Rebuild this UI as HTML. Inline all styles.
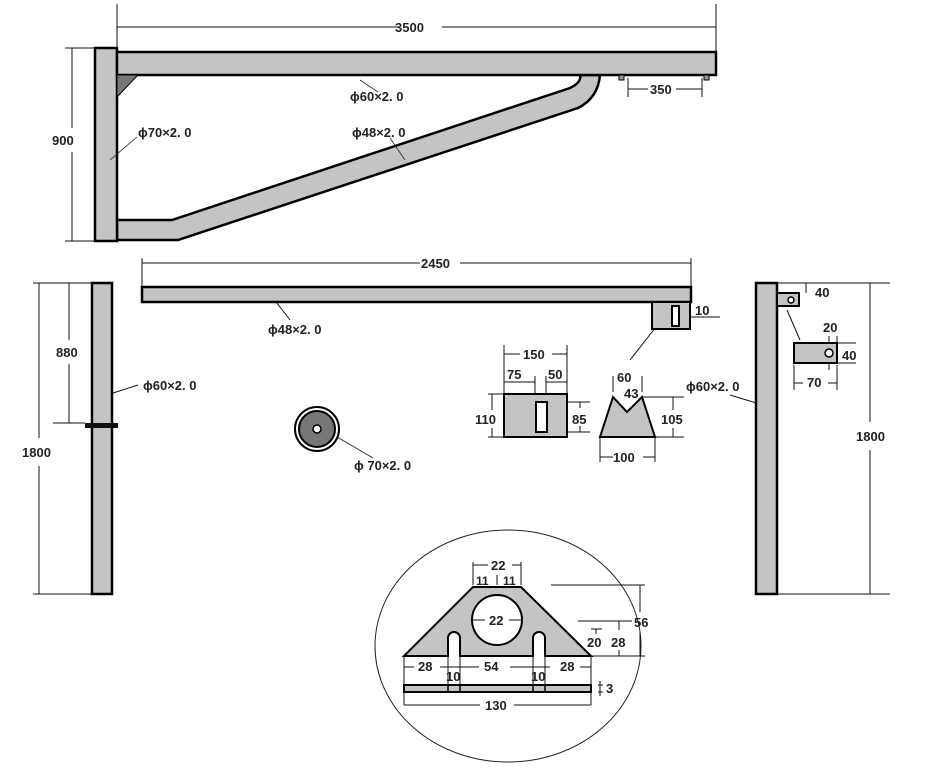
<!DOCTYPE html>
<html><head><meta charset="utf-8"><style>
html,body{margin:0;padding:0;background:#fff}
svg{display:block}
text{font-family:"Liberation Sans",sans-serif;font-weight:bold;font-size:13px;fill:#222}
</style></head><body>
<svg width="925" height="770" viewBox="0 0 925 770" xmlns="http://www.w3.org/2000/svg">
<g stroke="#111" fill="none" stroke-width="1">
<!-- 3500 dim -->
<line x1="117" y1="4" x2="117" y2="52"/><line x1="716" y1="4" x2="716" y2="52"/>
<line x1="117" y1="27" x2="400" y2="27"/><line x1="442" y1="27" x2="716" y2="27"/>
<!-- 900 dim -->
<line x1="65" y1="48" x2="95" y2="48"/><line x1="65" y1="241" x2="95" y2="241"/>
<line x1="72" y1="48" x2="72" y2="128"/><line x1="72" y1="152" x2="72" y2="241"/>
<!-- 350 -->
<line x1="628" y1="78" x2="628" y2="97"/><line x1="702" y1="78" x2="702" y2="97"/>
<line x1="628" y1="89" x2="648" y2="89"/><line x1="676" y1="89" x2="702" y2="89"/>
</g>
<!-- top bracket -->
<g stroke="#000" stroke-width="2.5" fill="#c4c4c4">
<path d="M117,220 L172,220 L570,88 Q582,82 580,75 L600,75 Q598,98 578,108 L178,240 L117,240 Z"/>
<rect x="95" y="48" width="22" height="193"/>
<rect x="117" y="52" width="599" height="23"/>
</g>
<path d="M117,75 L138,75 L117,97 Z" fill="#777" stroke="#000" stroke-width="1"/>
<rect x="619" y="75" width="5" height="5" fill="#999" stroke="#000"/>
<rect x="704" y="75" width="5" height="5" fill="#999" stroke="#000"/>
<g stroke="#222" stroke-width="0.8">
<line x1="360" y1="80" x2="378" y2="92"/><line x1="110" y1="160" x2="137" y2="137"/><line x1="390" y1="138" x2="405" y2="160"/>
</g>
<text x="395" y="32">3500</text><text x="52" y="145">900</text><text x="650" y="94">350</text>
<text x="350" y="101">ϕ60×2. 0</text><text x="138" y="137">ϕ70×2. 0</text><text x="352" y="137">ϕ48×2. 0</text>

<!-- middle beam -->
<g stroke="#111" stroke-width="1" fill="none">
<line x1="142" y1="258" x2="142" y2="287"/><line x1="691" y1="258" x2="691" y2="302"/>
<line x1="142" y1="263" x2="420" y2="263"/><line x1="460" y1="263" x2="691" y2="263"/>
<line x1="690" y1="317" x2="720" y2="317"/>
<line x1="663" y1="318" x2="630" y2="360"/><line x1="273" y1="298" x2="290" y2="320"/>
</g>
<rect x="142" y="287" width="549" height="15" fill="#c4c4c4" stroke="#000" stroke-width="2.5"/>
<rect x="652" y="302" width="38" height="27" fill="#c4c4c4" stroke="#000" stroke-width="2"/>
<rect x="672" y="306" width="7" height="20" fill="#fff" stroke="#000" stroke-width="2"/>
<text x="421" y="268">2450</text><text x="695" y="315">10</text><text x="268" y="334">ϕ48×2. 0</text>

<!-- left post -->
<g stroke="#111" stroke-width="1">
<line x1="33" y1="283" x2="92" y2="283"/><line x1="33" y1="594" x2="92" y2="594"/>
<line x1="39" y1="283" x2="39" y2="438"/><line x1="39" y1="466" x2="39" y2="594"/>
<line x1="53" y1="423" x2="85" y2="423"/>
<line x1="69" y1="283" x2="69" y2="340"/><line x1="69" y1="364" x2="69" y2="423"/>
<line x1="110" y1="394" x2="138" y2="385"/>
</g>
<rect x="92" y="283" width="20" height="311" fill="#c4c4c4" stroke="#000" stroke-width="2.5"/>
<rect x="85" y="423" width="33" height="5" fill="#111"/>
<text x="22" y="457">1800</text><text x="56" y="357">880</text><text x="143" y="390">ϕ60×2. 0</text>

<!-- disc -->
<circle cx="317" cy="429" r="22" fill="#fff" stroke="#000" stroke-width="2"/>
<circle cx="317" cy="429" r="18" fill="#777" stroke="#000" stroke-width="2"/>
<circle cx="317" cy="429" r="4" fill="#fff" stroke="#000" stroke-width="1.5"/>
<line x1="337" y1="437" x2="373" y2="458" stroke="#222" stroke-width="0.8"/>
<text x="354" y="470">ϕ 70×2. 0</text>

<!-- block 150 -->
<g stroke="#111" stroke-width="1">
<line x1="504" y1="345" x2="504" y2="394"/><line x1="567" y1="345" x2="567" y2="394"/>
<line x1="504" y1="354" x2="520" y2="354"/><line x1="552" y1="354" x2="567" y2="354"/>
<line x1="535" y1="376" x2="535" y2="402"/><line x1="546" y1="376" x2="546" y2="402"/>
<line x1="504" y1="382" x2="535" y2="382"/><line x1="546" y1="382" x2="567" y2="382"/>
<line x1="488" y1="394" x2="504" y2="394"/><line x1="488" y1="437" x2="504" y2="437"/>
<line x1="492" y1="394" x2="492" y2="410"/><line x1="492" y1="428" x2="492" y2="437"/>
<line x1="547" y1="402" x2="590" y2="402"/><line x1="547" y1="432" x2="590" y2="432"/>
<line x1="580" y1="402" x2="580" y2="408"/><line x1="580" y1="426" x2="580" y2="432"/>
</g>
<rect x="504" y="394" width="63" height="43" fill="#c4c4c4" stroke="#000" stroke-width="2"/>
<rect x="536" y="402" width="11" height="30" fill="#fff" stroke="#000" stroke-width="2"/>
<text x="523" y="359">150</text><text x="507" y="379">75</text><text x="548" y="379">50</text>
<text x="475" y="424">110</text><text x="572" y="424">85</text>

<!-- trapezoid -->
<g stroke="#111" stroke-width="1">
<line x1="613" y1="376" x2="613" y2="392"/><line x1="642" y1="376" x2="642" y2="392"/>
<line x1="600" y1="437" x2="600" y2="462"/><line x1="655" y1="437" x2="655" y2="462"/>
<line x1="600" y1="457" x2="613" y2="457"/><line x1="643" y1="457" x2="655" y2="457"/>
<line x1="642" y1="397" x2="684" y2="397"/><line x1="655" y1="437" x2="684" y2="437"/>
<line x1="673" y1="397" x2="673" y2="410"/><line x1="673" y1="428" x2="673" y2="437"/>
</g>
<path d="M600,437 L655,437 L642,397 L627,412 L613,397 Z" fill="#c4c4c4" stroke="#000" stroke-width="2"/>
<text x="617" y="382">60</text><text x="624" y="398">43</text><text x="661" y="424">105</text><text x="613" y="462">100</text>

<!-- right post -->
<g stroke="#111" stroke-width="1">
<line x1="777" y1="283" x2="890" y2="283"/><line x1="777" y1="594" x2="890" y2="594"/>
<line x1="870" y1="283" x2="870" y2="422"/><line x1="870" y1="450" x2="870" y2="594"/>
<line x1="806" y1="283" x2="806" y2="293"/>
<line x1="829" y1="336" x2="829" y2="370"/><line x1="837" y1="336" x2="837" y2="345"/>
<line x1="837" y1="343" x2="856" y2="343"/><line x1="837" y1="363" x2="856" y2="363"/>
<line x1="794" y1="365" x2="794" y2="390"/><line x1="837" y1="365" x2="837" y2="390"/>
<line x1="794" y1="383" x2="803" y2="383"/><line x1="828" y1="383" x2="837" y2="383"/>
<line x1="787" y1="310" x2="800" y2="340"/>
<line x1="730" y1="395" x2="763" y2="405"/>
</g>
<rect x="756" y="283" width="21" height="311" fill="#c4c4c4" stroke="#000" stroke-width="2.5"/>
<rect x="777" y="293" width="22" height="13" fill="#c4c4c4" stroke="#000" stroke-width="2"/>
<circle cx="791" cy="300" r="3" fill="#fff" stroke="#000" stroke-width="1.5"/>
<rect x="794" y="343" width="43" height="20" fill="#c4c4c4" stroke="#000" stroke-width="2"/>
<circle cx="829" cy="353" r="4" fill="#fff" stroke="#000" stroke-width="1.5"/>
<text x="815" y="297">40</text><text x="823" y="332">20</text><text x="842" y="360">40</text>
<text x="807" y="387">70</text><text x="856" y="441">1800</text><text x="686" y="391">ϕ60×2. 0</text>

<!-- ellipse detail -->
<ellipse cx="508" cy="646" rx="133" ry="116" fill="none" stroke="#222" stroke-width="1"/>
<path d="M404,656 L473,587 L521,587 L591,656 L545,656 L545,638 A6,6 0 0 0 533,638 L533,656 L460,656 L460,638 A6,6 0 0 0 448,638 L448,656 Z" fill="#c4c4c4" stroke="#000" stroke-width="2"/>
<circle cx="497" cy="620" r="25" fill="#fff" stroke="#000" stroke-width="2"/>
<rect x="404" y="685" width="187" height="7" fill="#c4c4c4" stroke="#000" stroke-width="2"/>
<g stroke="#000" stroke-width="1.5"><line x1="448" y1="685" x2="448" y2="692"/><line x1="460" y1="685" x2="460" y2="692"/><line x1="533" y1="685" x2="533" y2="692"/><line x1="545" y1="685" x2="545" y2="692"/></g>
<g stroke="#111" stroke-width="1">
<line x1="473" y1="562" x2="473" y2="585"/><line x1="521" y1="562" x2="521" y2="585"/><line x1="497" y1="575" x2="497" y2="585"/>
<line x1="473" y1="565" x2="488" y2="565"/><line x1="512" y1="565" x2="521" y2="565"/>
<line x1="473" y1="620" x2="485" y2="620"/><line x1="509" y1="620" x2="521" y2="620"/>
<line x1="551" y1="585" x2="645" y2="585"/><line x1="578" y1="621" x2="632" y2="621"/><line x1="591" y1="629" x2="602" y2="629"/>
<line x1="591" y1="656" x2="645" y2="656"/>
<line x1="640" y1="585" x2="640" y2="612"/><line x1="640" y1="632" x2="640" y2="656"/>
<line x1="619" y1="621" x2="619" y2="630"/><line x1="619" y1="650" x2="619" y2="656"/>
<line x1="596" y1="629" x2="596" y2="634"/>
<line x1="404" y1="656" x2="404" y2="705"/><line x1="591" y1="656" x2="591" y2="705"/>
<line x1="448" y1="656" x2="448" y2="685"/><line x1="460" y1="656" x2="460" y2="685"/>
<line x1="533" y1="656" x2="533" y2="685"/><line x1="545" y1="656" x2="545" y2="685"/>
<line x1="404" y1="667" x2="414" y2="667"/><line x1="440" y1="667" x2="479" y2="667"/><line x1="510" y1="667" x2="550" y2="667"/><line x1="580" y1="667" x2="591" y2="667"/>
<line x1="404" y1="705" x2="480" y2="705"/><line x1="514" y1="705" x2="591" y2="705"/>
<line x1="598" y1="685" x2="603" y2="685"/><line x1="598" y1="692" x2="603" y2="692"/><line x1="600" y1="681" x2="600" y2="696"/>
</g>
<text x="491" y="570">22</text><text x="476" y="585" style="font-size:12px">11</text><text x="503" y="585" style="font-size:12px">11</text>
<text x="489" y="625">22</text><text x="634" y="627">56</text><text x="611" y="647">28</text><text x="587" y="647">20</text>
<text x="418" y="671">28</text><text x="484" y="671">54</text><text x="560" y="671">28</text>
<text x="446" y="681">10</text><text x="531" y="681">10</text><text x="606" y="693">3</text><text x="485" y="710">130</text>
</svg>
</body></html>
